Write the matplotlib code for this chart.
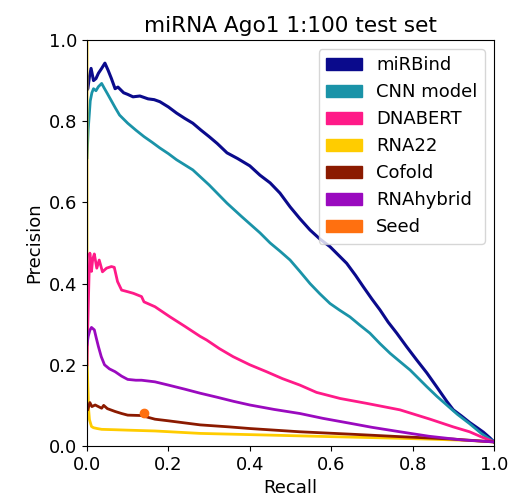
import matplotlib
matplotlib.use("Agg")
import matplotlib.pyplot as plt
import matplotlib.patches as mpatches

# values
mirbind_r = [0, 0.002, 0.006, 0.01, 0.016, 0.022, 0.028, 0.036, 0.044, 0.052, 0.06, 0.069,
             0.076, 0.09, 0.1, 0.113, 0.13, 0.15, 0.165, 0.179, 0.2, 0.22, 0.24, 0.26, 0.28,
             0.3, 0.32, 0.344, 0.37, 0.4, 0.425, 0.45, 0.474, 0.499, 0.523, 0.548, 0.572,
             0.597, 0.618, 0.638, 0.66, 0.679, 0.7, 0.72, 0.74, 0.761, 0.785, 0.81, 0.835,
             0.859, 0.884, 0.9, 0.92, 0.94, 0.96, 0.974, 0.99, 1.0]
mirbind_p = [0.877, 0.88, 0.91, 0.93, 0.9, 0.905, 0.918, 0.93, 0.943, 0.925, 0.905, 0.88,
             0.884, 0.87, 0.866, 0.86, 0.862, 0.855, 0.853, 0.848, 0.835, 0.82, 0.807, 0.795,
             0.778, 0.762, 0.745, 0.722, 0.708, 0.69, 0.667, 0.648, 0.623, 0.589, 0.56, 0.532,
             0.51, 0.491, 0.47, 0.45, 0.42, 0.392, 0.362, 0.335, 0.305, 0.278, 0.245, 0.212,
             0.18, 0.146, 0.11, 0.089, 0.074, 0.058, 0.044, 0.034, 0.02, 0.01]

cnn_r = [0, 0.003, 0.008, 0.012, 0.016, 0.022, 0.028, 0.036, 0.042, 0.05, 0.06, 0.07, 0.08,
         0.1, 0.12, 0.14, 0.16, 0.179, 0.2, 0.22, 0.26, 0.3, 0.344, 0.38, 0.425, 0.45, 0.474,
         0.499, 0.523, 0.548, 0.572, 0.597, 0.62, 0.646, 0.67, 0.695, 0.72, 0.745, 0.77,
         0.794, 0.815, 0.835, 0.86, 0.885, 0.91, 0.94, 0.97, 1.0]
cnn_p = [0.71, 0.78, 0.85, 0.87, 0.88, 0.875, 0.885, 0.893, 0.882, 0.868, 0.85, 0.832, 0.815,
         0.795, 0.778, 0.762, 0.748, 0.734, 0.72, 0.705, 0.68, 0.643, 0.598, 0.565, 0.525,
         0.5, 0.48, 0.458, 0.43, 0.4, 0.375, 0.351, 0.335, 0.318, 0.298, 0.278, 0.252,
         0.228, 0.207, 0.187, 0.166, 0.146, 0.122, 0.1, 0.078, 0.055, 0.03, 0.01]

dnabert_r = [0, 0.002, 0.005, 0.007, 0.011, 0.014, 0.018, 0.024, 0.03, 0.038, 0.048, 0.06,
             0.067, 0.075, 0.085, 0.1, 0.114, 0.134, 0.14, 0.167, 0.204, 0.24, 0.278, 0.294,
             0.325, 0.359, 0.4, 0.441, 0.48, 0.523, 0.564, 0.622, 0.687, 0.769, 0.843, 0.9,
             0.94, 0.97, 1.0]
dnabert_p = [0.2, 0.3, 0.42, 0.475, 0.43, 0.46, 0.473, 0.438, 0.458, 0.429, 0.438, 0.442,
             0.44, 0.405, 0.384, 0.38, 0.376, 0.368, 0.355, 0.343, 0.318, 0.295, 0.27, 0.261,
             0.24, 0.22, 0.2, 0.183, 0.166, 0.15, 0.132, 0.117, 0.105, 0.089, 0.066, 0.047,
             0.035, 0.022, 0.01]

rna22_r = [0, 0, 0.002, 0.004, 0.006, 0.011, 0.016, 0.025, 0.036, 0.07, 0.1, 0.167, 0.278,
           0.4, 0.6, 0.769, 0.9, 0.95, 1.0]
rna22_p = [1.0, 0.22, 0.15, 0.09, 0.065, 0.048, 0.045, 0.043, 0.041, 0.04, 0.039, 0.037,
           0.031, 0.028, 0.023, 0.019, 0.015, 0.013, 0.01]

cofold_r = [0.002, 0.007, 0.012, 0.02, 0.03, 0.036, 0.041, 0.05, 0.069, 0.085, 0.1, 0.134,
            0.167, 0.2, 0.278, 0.35, 0.4, 0.523, 0.65, 0.769, 0.9, 1.0]
cofold_p = [0.09, 0.107, 0.097, 0.101, 0.096, 0.093, 0.1, 0.092, 0.085, 0.08, 0.076, 0.075,
            0.066, 0.062, 0.052, 0.047, 0.043, 0.035, 0.029, 0.023, 0.017, 0.01]

rnahybrid_r = [0, 0.003, 0.007, 0.011, 0.018, 0.023, 0.028, 0.035, 0.043, 0.055, 0.069,
               0.085, 0.1, 0.12, 0.134, 0.167, 0.2, 0.24, 0.278, 0.32, 0.36, 0.4, 0.46,
               0.523, 0.58, 0.646, 0.7, 0.769, 0.84, 0.92, 1.0]
rnahybrid_p = [0.25, 0.27, 0.285, 0.292, 0.286, 0.265, 0.245, 0.22, 0.2, 0.19, 0.183, 0.172,
               0.164, 0.162, 0.162, 0.158, 0.15, 0.14, 0.13, 0.12, 0.11, 0.101, 0.09, 0.08,
               0.068, 0.056, 0.046, 0.035, 0.024, 0.015, 0.01]

seed_r = [0.14]
seed_p = [0.081]

names = ["miRBind", "CNN model", "DNABERT", "RNA22", "Cofold", "RNAhybrid", "Seed"]
colors = ["#0a0a8c", "#1a93a8", "#ff1a88", "#ffcc00", "#8b1a00", "#9a0abf", "#ff7010"]

plt.rcParams["font.size"] = 13

fig = plt.figure(figsize=(5.1, 5.01), dpi=100)
ax = fig.add_axes([0.1706, 0.1098, 0.798, 0.8104])

ax.plot(mirbind_r, mirbind_p, color=colors[0], lw=2.2)
ax.plot(cnn_r, cnn_p, color=colors[1], lw=2)
ax.plot(rna22_r, rna22_p, color=colors[3], lw=2)
ax.plot(dnabert_r, dnabert_p, color=colors[2], lw=2)
ax.plot(cofold_r, cofold_p, color=colors[4], lw=2)
ax.plot(rnahybrid_r, rnahybrid_p, color=colors[5], lw=2)
ax.plot(seed_r, seed_p, "o", color=colors[6], markersize=6)

handles = [mpatches.Patch(color=c, label=n) for n, c in zip(names, colors)]
ax.legend(handles=handles, loc="upper right", fontsize=13)

ax.set_xlim(0, 1)
ax.set_ylim(0, 1)
ax.set_xticks([0, 0.2, 0.4, 0.6, 0.8, 1.0])
ax.set_yticks([0, 0.2, 0.4, 0.6, 0.8, 1.0])
ax.set_xlabel("Recall")
ax.set_ylabel("Precision")
ax.set_title("miRNA Ago1 1:100 test set", fontsize=15.6)

fig.savefig("out.png", dpi=100)
